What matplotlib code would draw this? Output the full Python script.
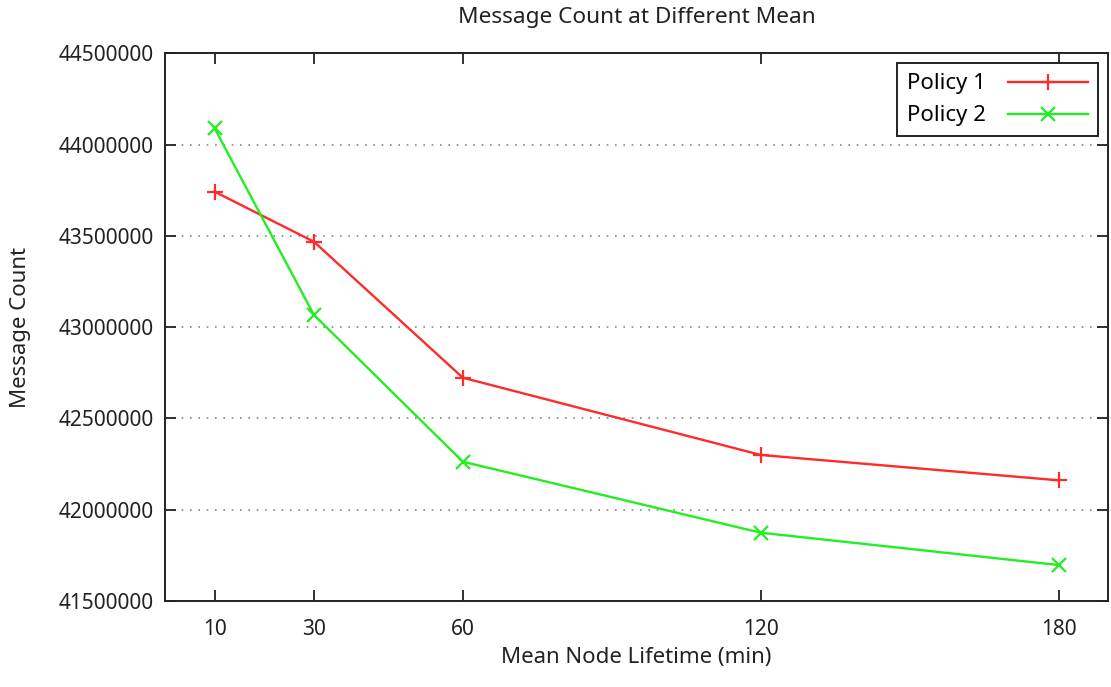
import numpy as np
import matplotlib.pyplot as plt

plt.rcParams['font.family'] = ['Noto Sans', 'DejaVu Sans']

# Data
lifetimes = [10, 30, 60, 120, 180]
policy1 = [43742000, 43468000, 42723000, 42300000, 42161000]
policy2 = [44089000, 43067000, 42263000, 41874000, 41697000]
y_ticks = [41500000, 42000000, 42500000, 43000000, 43500000, 44000000, 44500000]

fig = plt.figure(figsize=(11.11, 6.87), dpi=100)
ax = fig.add_axes([0.1485, 0.1252, 0.849, 0.7972])

ax.plot(lifetimes, policy1, color='#ff2a2a', lw=1.7, marker='+', ms=12, mew=1.6, label='Policy 1')
ax.plot(lifetimes, policy2, color='#22ee22', lw=1.7, marker='x', ms=10, mew=1.6, label='Policy 2')

ax.set_xlim(0, 190)
ax.set_ylim(41500000, 44500000)
ax.set_xticks(lifetimes)
ax.set_yticks(y_ticks)
ax.set_yticklabels([str(v) for v in y_ticks])

# gnuplot style: inward mirrored ticks, dotted horizontal grid
ax.tick_params(direction='in', length=8, width=1.3, top=True, right=True,
               labelsize=15, colors='#222222', pad=8)
ax.tick_params(axis='x', pad=13)
for s in ax.spines.values():
    s.set_linewidth(1.4)
    s.set_color('#222222')
ax.yaxis.grid(True, linestyle=(0, (1, 4)), color='#888888', lw=1.2)

ax.set_title('Message Count at Different Mean', fontsize=16.3, pad=22, color='#222222')
ax.set_xlabel('Mean Node Lifetime (min)', fontsize=16, color='#222222', labelpad=5)
ax.set_ylabel('Message Count', fontsize=16, color='#222222', labelpad=20)

leg = ax.legend(loc='upper right', markerfirst=False, fontsize=16, fancybox=False,
                framealpha=1, edgecolor='#222222', handlelength=3.6,
                borderaxespad=0.45, labelspacing=0.5, borderpad=0.45,
                handletextpad=1.0)
leg.get_frame().set_linewidth(1.4)

fig.savefig('out.png', dpi=100)
